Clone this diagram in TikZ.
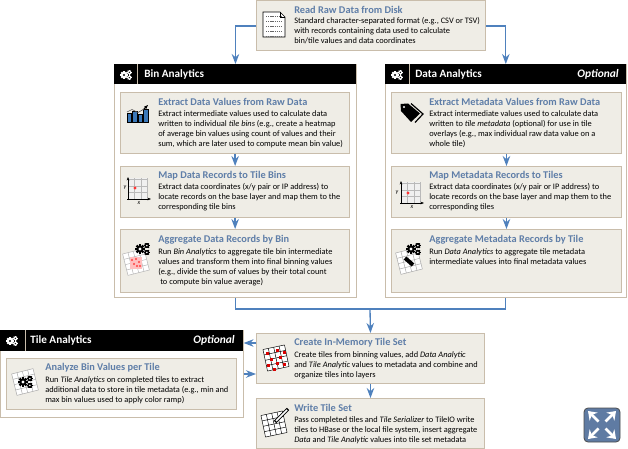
\documentclass[tikz,border=0pt]{standalone}
\usepackage{fontspec}
\setmainfont{Carlito}
\usetikzlibrary{arrows.meta,calc}
\definecolor{flowblue}{HTML}{4F81BD}
\definecolor{headblue}{HTML}{5F7EA8}
\definecolor{boxtan}{HTML}{C9BDAB}
\definecolor{boxfill}{HTML}{EFEDE6}
\definecolor{iconblue}{HTML}{3B78B8}
\definecolor{badgeblue}{HTML}{5F7BA3}
\tikzset{
	panel/.style={draw=boxtan, fill=white, line width=0.7pt, anchor=north west, inner sep=0pt},
	panelbar/.style={fill=black, anchor=north west, inner sep=0pt},
	stepbox/.style={draw=boxtan, fill=boxfill, line width=0.7pt, anchor=north west, inner sep=0pt},
	boxhead/.style={anchor=west, inner sep=0pt, text=headblue, font=\fontsize{7.75}{9}\selectfont\bfseries},
	boxbody/.style={anchor=north west, inner sep=0pt, align=left, font=\fontsize{6.28}{7.5}\selectfont},
	barlabel/.style={anchor=west, inner sep=0pt, text=white, font=\fontsize{8.4}{10}\selectfont\bfseries},
	baropt/.style={anchor=east, inner sep=0pt, text=white, font=\fontsize{8.6}{10}\selectfont\itshape\bfseries},
	flow/.style={draw=flowblue, line width=1pt},
	axislabel/.style={inner sep=0pt, font=\fontsize{4.5}{5}\selectfont\itshape},
}
% one gear: x, y, radius, colour, hole colour
\newcommand{\onegear}[5]{
	\foreach \a in {0,45,...,315} \draw[#4, line width=#3*0.5pt] (#1,#2) -- +(\a:#3*1.35);
	\fill[#4] (#1,#2) circle (#3);
	\fill[#5] (#1,#2) circle (#3*0.42);
}
% big gear with two small ones: x, y, radius, colour, hole colour
\newcommand{\gearset}[5]{
	\onegear{#1}{#2}{#3}{#4}{#5}
	\onegear{#1+#3*1.9}{#2-#3*0.95}{#3*0.6}{#4}{#5}
	\onegear{#1+#3*1.9}{#2+#3*0.95}{#3*0.6}{#4}{#5}
}
% tilted tile grid: x, y, angle, colour
\newcommand{\tilegrid}[4]{
	\begin{scope}[shift={(#1,#2)}, rotate=#3]
		\fill[white] (-11,-11) rectangle (11,11);
		\foreach \u in {-11,-5.5,...,11} {
			\draw[#4, line width=0.35pt] (\u,-11) -- (\u,11);
			\draw[#4, line width=0.35pt] (-11,\u) -- (11,\u);
		}
	\end{scope}
}
% axes with a grid behind them: x, y of origin
\newcommand{\axisgrid}[2]{
	\fill[gray!12] (#1,#2) rectangle +(20,-21);
	\foreach \u in {0,6.5,13,19.5} {
		\draw[gray!55, line width=0.4pt] (#1+\u,#2) -- +(0,-21);
		\draw[gray!55, line width=0.4pt] (#1,#2-\u) -- +(20,0);
	}
	\draw[->, line width=0.6pt, >={Stealth[length=2.6pt]}] (#1,#2+1) -- +(0,-23);
	\draw[->, line width=0.6pt, >={Stealth[length=2.6pt]}] (#1-1,#2) -- +(24,0);
}
\begin{document}
\begin{tikzpicture}[x=0.75pt, y=-0.75pt, >=Stealth]
	\useasboundingbox (0,0) rectangle (628,449);
	% panels
	\node[panel, minimum width=181.5pt, minimum height=175pt] (binpanel) at (114,64) {};
	\node[panelbar, minimum width=181.5pt, minimum height=15pt] (binbar) at (114,64) {};
	\node[panel, minimum width=180.5pt, minimum height=175pt] (datapanel) at (385,64) {};
	\node[panelbar, minimum width=180.5pt, minimum height=15pt] (databar) at (385,64) {};
	\node[panel, minimum width=182pt, minimum height=65pt] (tilepanel) at (0,330) {};
	\node[panelbar, minimum width=182pt, minimum height=15.5pt] (tilebar) at (0,330) {};
	\draw[boxtan, line width=0.4pt] (137,64) -- (137,84);
	\draw[boxtan, line width=0.4pt] (409,64) -- (409,84);
	\draw[boxtan, line width=0.4pt] (25,330) -- (25,351);
	\node[barlabel] (binname) at (144,74.5) {Bin Analytics};
	\node[barlabel] (dataname) at (415,74.5) {Data Analytics};
	\node[baropt] (dataopt) at (619,74.5) {Optional};
	\node[barlabel] (tilename) at (30,340.5) {Tile Analytics};
	\node[baropt] (tileopt) at (235,340.5) {Optional};
	\gearset{124}{75}{2.8}{white}{black}
	\gearset{395}{75}{2.8}{white}{black}
	\gearset{10}{341}{2.8}{white}{black}
	% step boxes
	\node[stepbox, minimum width=172pt, minimum height=37.5pt] (readdisk) at (256,0.5) {};
	\node[stepbox, minimum width=172pt, minimum height=45.7pt] (binextract) at (120,92) {};
	\node[stepbox, minimum width=172pt, minimum height=38.2pt] (binmap) at (120,166) {};
	\node[stepbox, minimum width=172pt, minimum height=47.2pt] (binaggr) at (120,229) {};
	\node[stepbox, minimum width=172.5pt, minimum height=45.7pt] (dataextract) at (391,92) {};
	\node[stepbox, minimum width=172.5pt, minimum height=38.2pt] (datamap) at (391,166) {};
	\node[stepbox, minimum width=172.5pt, minimum height=47.2pt] (dataaggr) at (391,229) {};
	\node[stepbox, minimum width=172.5pt, minimum height=38.2pt] (tilerun) at (6,358) {};
	\node[stepbox, minimum width=171pt, minimum height=37.5pt] (create) at (256,333) {};
	\node[stepbox, minimum width=171pt, minimum height=37.5pt] (writeset) at (256,398) {};
	% connectors
	\coordinate (mergept) at (370,309);
	\coordinate (backup) at (0,343);
	\coordinate (backdown) at (0,374);
	\draw[flow, ->] (readdisk.west) -| (binpanel.north);
	\draw[flow, ->] (readdisk.east) -| (datapanel.north);
	\draw[flow, ->] (binextract) -- (binmap);
	\draw[flow, ->] (binmap) -- (binaggr);
	\draw[flow, ->] (dataextract) -- (datamap);
	\draw[flow, ->] (datamap) -- (dataaggr);
	\draw[flow] (binpanel.south) |- (mergept);
	\draw[flow] (datapanel.south) |- (mergept);
	\draw[flow, ->] (mergept) -- (create.north);
	\draw[flow, ->] (create.south) -- (writeset.north);
	\draw[flow, ->] (create.west |- backup) -- (tilepanel.east |- backup);
	\draw[flow, ->] (tilepanel.east |- backdown) -- (create.west |- backdown);
	% box texts
	\node[boxhead] (readhead) at (294,9.5) {Read Raw Data from Disk};
	\node[boxbody] (readtext) at (294,17) {Standard character-separated format (e.g., CSV or TSV)\\with records containing data used to calculate\\bin/tile values and data coordinates};
	\node[boxhead] (binexhead) at (158,102) {Extract Data Values from Raw Data};
	\node[boxbody] (binextext) at (158,110) {Extract intermediate values used to calculate data\\written to individual \textit{tile bins} (e.g., create a heatmap\\of average bin values using count of values and their\\sum, which are later used to compute mean bin value)};
	\node[boxhead] (binmaphead) at (158,176) {Map Data Records to Tile Bins};
	\node[boxbody] (binmaptext) at (158,183.5) {Extract data coordinates (x/y pair or IP address) to\\locate records on the base layer and map them to the\\corresponding tile bins};
	\node[boxhead] (binaghead) at (158,240) {Aggregate Data Records by Bin};
	\node[boxbody] (binagtext) at (158,248) {Run \textit{Bin Analytics} to aggregate tile bin intermediate\\values and transform them into final binning values\\(e.g., divide the sum of values by their total count\\\hspace*{1.5pt}to compute bin value average)};
	\node[boxhead] (dataexhead) at (429,102) {Extract Metadata Values from Raw Data};
	\node[boxbody] (dataextext) at (429,110) {Extract intermediate values used to calculate data\\written to \textit{tile metadata} (optional) for use in tile\\overlays (e.g., max individual raw data value on a\\whole tile)};
	\node[boxhead] (datamaphead) at (429,176) {Map Metadata Records to Tiles};
	\node[boxbody] (datamaptext) at (429,183.5) {Extract data coordinates (x/y pair or IP address) to\\locate records on the base layer and map them to the\\corresponding tiles};
	\node[boxhead] (dataaghead) at (429,240) {Aggregate Metadata Records by Tile};
	\node[boxbody] (dataagtext) at (429,248) {Run \textit{Data Analytics} to aggregate tile metadata\\intermediate values into final metadata values};
	\node[boxhead] (tilehead) at (45,368) {Analyze Bin Values per Tile};
	\node[boxbody] (tiletext) at (45,376) {Run \textit{Tile Analytics} on completed tiles to extract\\additional data to store in tile metadata (e.g., min and\\max bin values used to apply color ramp)};
	\node[boxhead] (createhead) at (294,343) {Create In-Memory Tile Set};
	\node[boxbody] (createtext) at (294,351) {Create tiles from binning values, add \textit{Data Analytic}\\and \textit{Tile Analytic} values to metadata and combine and\\organize tiles into layers};
	\node[boxhead] (writehead) at (294,408) {Write Tile Set};
	\node[boxbody] (writetext) at (294,416) {Pass completed tiles and \textit{Tile Serializer} to TileIO write\\tiles to HBase or the local file system, insert aggregate\\\textit{Data} and \textit{Tile Analytic} values into tile set metadata};
	% file icon
	\draw[black, fill=white, line width=0.4pt] (263,12) -- (280,12) -- (285,17) -- (285,37) -- (263,37) -- cycle;
	\draw[black, line width=0.3pt] (280,12) -- (280,17) -- (285,17);
	\foreach \y in {16,21,...,36} \draw[gray!80!black, line width=0.6pt, dash pattern=on 1pt off 0.6pt] (266,\y) -- (282,\y);
	% chart icon
	\foreach \x/\h in {127/9,132.5/11,138/8,143.5/13} \draw[black, fill=iconblue, line width=0.5pt] (\x,122) rectangle +(4.5,-\h);
	\draw[gray!70!black, line width=0.5pt] (127,112) -- (132,109.5) -- (138,112.5) -- (144,109);
	\draw[black, line width=0.8pt, -{Stealth[length=3pt]}] (144,109) -- (148,105);
	% axis icons
	\axisgrid{128}{199}
	\fill[red!80] (135,188) circle (1.6);
	\node[axislabel] (binaxisy) at (125,188) {y};
	\node[axislabel] (binaxisx) at (139,203) {x};
	\axisgrid{401}{203}
	\fill[red!80] (408,193) circle (1.6);
	\node[axislabel] (dataaxisy) at (397,193) {y};
	\node[axislabel] (dataaxisx) at (412,207) {x};
	% tag icon
	\fill[black] (400.5,104) -- (408,103.5) -- (420,113.5) -- (411,122) -- (401,111) -- cycle;
	\draw[black, line width=0.9pt] (411,103.5) -- (423,114) -- (415,122.5);
	\fill[white] (404,107) circle (1.2);
	% aggregate icons
	\tilegrid{136}{262}{14}{gray!60}
	\fill[red!25] (130,257) rectangle (142,269);
	\foreach \x/\y in {132/260,136/259,139/262,134/264,137/266,140/266} \fill[red!75] (\x,\y) circle (1.2);
	\gearset{140}{249}{3.6}{black}{white}
	\tilegrid{409}{261}{14}{gray!70}
	\gearset{411}{249}{3.6}{black}{white}
	\draw[black, line width=3pt] (405,258) -- (413,265);
	\tilegrid{25}{382}{14}{gray!70}
	\gearset{23}{382}{3.6}{black}{white}
	% create icon
	\tilegrid{276}{358}{12}{black}
	\foreach \x/\y in {266/352,276/349,283/351,270/358,279/356,267/364,276/362,283/363,273/368}
		\fill[red!85!black] (\x,\y) rectangle +(3.4,3);
	% write icon
	\tilegrid{274}{424}{12}{black}
	\draw[black, line width=2.6pt] (275,422) -- (288,409);
	\draw[white, line width=1.2pt] (276,421) -- (287,410);
	% badge
	\node[draw=black!70, fill=badgeblue, line width=0.6pt, rounded corners=3pt, minimum width=27pt, minimum height=25.5pt, inner sep=0pt] (badge) at (602,425) {};
	\foreach \dx/\dy in {1/1,1/-1,-1/1,-1/-1}
		\draw[white, line width=2pt, -{Stealth[length=6pt, width=8.5pt]}] ($(badge)+(\dx*3.5,\dy*3.5)$) -- +(\dx*10.5,\dy*10.5);
\end{tikzpicture}
\end{document}
